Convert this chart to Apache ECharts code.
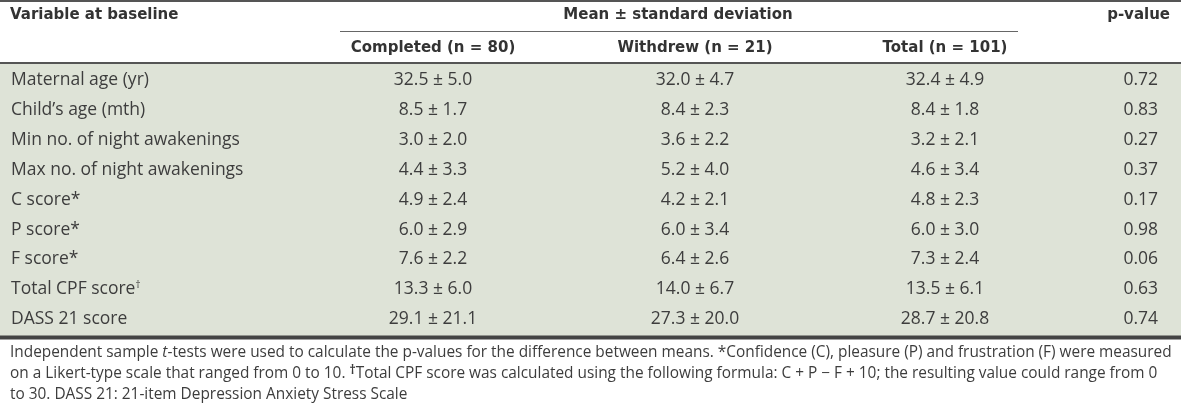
<!DOCTYPE html>
<html><head><meta charset="utf-8">
<script src="https://cdn.jsdelivr.net/npm/echarts@6/dist/echarts.min.js"></script>
<style>html,body{margin:0;padding:0;background:#fff}#c{width:1181px;height:411px}</style>
</head><body><div id="c"></div>
<script>
// ---- data ----
const variables = ['Maternal age (yr)', 'Child\u2019s age (mth)', 'Min no. of night awakenings', 'Max no. of night awakenings', 'C score*', 'P score*', 'F score*', 'Total CPF score\u2020', 'DASS 21 score'];
const completedMean = [32.5, 8.5, 3.0, 4.4, 4.9, 6.0, 7.6, 13.3, 29.1];
const completedSD   = [5.0, 1.7, 2.0, 3.3, 2.4, 2.9, 2.2, 6.0, 21.1];
const withdrewMean  = [32.0, 8.4, 3.6, 5.2, 4.2, 6.0, 6.4, 14.0, 27.3];
const withdrewSD    = [4.7, 2.3, 2.2, 4.0, 2.1, 3.4, 2.6, 6.7, 20.0];
const totalMean     = [32.4, 8.4, 3.2, 4.6, 4.8, 6.0, 7.3, 13.5, 28.7];
const totalSD       = [4.9, 1.8, 2.1, 3.4, 2.3, 3.0, 2.4, 6.1, 20.8];
const pValues       = [0.72, 0.83, 0.27, 0.37, 0.17, 0.98, 0.06, 0.63, 0.74];
const headerTop = ['Variable at baseline', 'Mean \u00b1 standard deviation', 'p-value'];
const groupHeaders = ['Completed (n = 80)', 'Withdrew (n = 21)', 'Total (n = 101)'];

// ---- layout ----
const W = 1181, H = 411;
const colX = [433, 695, 945];   // centers of the three group columns
const pRight = 1158;
const bodyFont = '"Open Sans", "Noto Sans", sans-serif';
const headFont = '"DejaVu Sans", Verdana, sans-serif';
const bodyColor = '#3d3d3d';
const headColor = '#333333';
const bodySize = 17.5;
const noteSize = 15.4;

const chart = echarts.init(document.getElementById('c'), null, {renderer: 'canvas'});

const fmt = (m, s) => m.toFixed(1) + ' \u00b1 ' + s.toFixed(1);
const groups = [[completedMean, completedSD], [withdrewMean, withdrewSD], [totalMean, totalSD]];

const option = {
  backgroundColor: '#ffffff',
  animation: false,
  grid: {left: 0, right: 0, top: 65.5, bottom: 77, show: false},
  xAxis: {type: 'value', min: 0, max: W, show: false},
  yAxis: {
    type: 'category', inverse: true, data: variables,
    axisLine: {show: false}, axisTick: {show: false}, splitLine: {show: false},
    axisLabel: {
      inside: true, margin: 11, align: 'left',
      color: bodyColor, fontFamily: bodyFont, fontSize: bodySize,
      formatter: v => v.replace('\u2020', '{sup|\u2020}'),
      rich: {sup: {fontSize: 10, verticalAlign: 'top', color: bodyColor, fontFamily: bodyFont, padding: [0, 0, 6, 0]}}
    }
  },
  series: [{
    type: 'custom',
    data: variables.map((v, i) => [0, i]),
    renderItem: function (params, api) {
      const i = api.value(1);
      const children = [];
      groups.forEach((g, k) => {
        const p = api.coord([colX[k], i]);
        children.push({type: 'text', x: p[0], y: p[1], style: {
          text: fmt(g[0][i], g[1][i]), align: 'center', verticalAlign: 'middle',
          fill: bodyColor, font: bodySize + 'px ' + bodyFont}});
      });
      const pp = api.coord([pRight, i]);
      children.push({type: 'text', x: pp[0], y: pp[1], style: {
        text: pValues[i].toFixed(2), align: 'right', verticalAlign: 'middle',
        fill: bodyColor, font: bodySize + 'px ' + bodyFont}});
      return {type: 'group', children: children};
    }
  }],
  graphic: [
    {type: 'rect', z: -10, shape: {x: 0, y: 64, width: W, height: 272}, style: {fill: '#dee3d7'}},
    {type: 'line', shape: {x1: 0, y1: 1, x2: W, y2: 1}, style: {stroke: '#555', lineWidth: 2}},
    {type: 'line', shape: {x1: 340, y1: 31.5, x2: 1018, y2: 31.5}, style: {stroke: '#666', lineWidth: 1}},
    {type: 'line', shape: {x1: 0, y1: 63, x2: W, y2: 63}, style: {stroke: '#555', lineWidth: 2}},
    {type: 'line', shape: {x1: 0, y1: 337.5, x2: W, y2: 337.5}, style: {stroke: '#444', lineWidth: 4}},
    {type: 'text', x: 10, y: 15, style: {text: headerTop[0], align: 'left', verticalAlign: 'middle', fill: headColor, font: 'bold 15px ' + headFont}},
    {type: 'text', x: 678, y: 15, style: {text: headerTop[1], align: 'center', verticalAlign: 'middle', fill: headColor, font: 'bold 15px ' + headFont}},
    {type: 'text', x: 1170, y: 15, style: {text: headerTop[2], align: 'right', verticalAlign: 'middle', fill: headColor, font: 'bold 15px ' + headFont}},
    ...groupHeaders.map((t, k) => ({type: 'text', x: colX[k], y: 48, style: {text: t, align: 'center', verticalAlign: 'middle', fill: headColor, font: 'bold 15px ' + headFont}})),
    {type: 'text', x: 10, y: 342, style: {
      text: 'Independent sample {it|t}-tests were used to calculate the p-values for the difference between means. *Confidence (C), pleasure (P) and frustration (F) were measured\n' +
            'on a Likert-type scale that ranged from 0 to 10. {sup|\u2020}Total CPF score was calculated using the following formula: C + P \u2212 F + 10; the resulting value could range from 0\n' +
            'to 30. DASS 21: 21-item Depression Anxiety Stress Scale',
      fill: bodyColor, font: noteSize + 'px ' + bodyFont, lineHeight: 21, verticalAlign: 'top', align: 'left',
      rich: {
        it: {fontStyle: 'italic', fontSize: noteSize, fontFamily: bodyFont, fill: bodyColor, lineHeight: 21},
        sup: {fontSize: 12, fontWeight: 'bold', fontFamily: bodyFont, fill: bodyColor, lineHeight: 21, verticalAlign: 'top', padding: [2, 0, 0, 0]}
      }
    }}
  ]
};
chart.setOption(option);
</script>
</body></html>
